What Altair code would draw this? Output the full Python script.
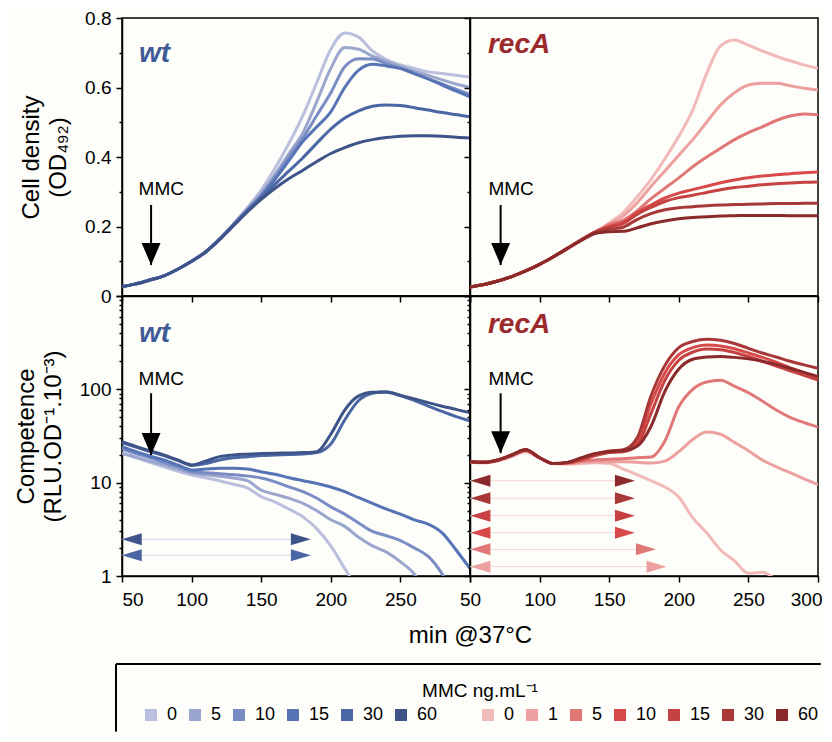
import altair as alt
import pandas as pd

FONT = "Liberation Sans"

T = [50, 60, 70, 80, 90, 100, 110, 120, 130, 140, 150, 160, 170, 180, 190,
     200, 210, 220, 230, 240, 250, 260, 270, 280, 290, 300]

# ---- Cell density (OD492), wt ----
WT_OD_0 = [0.027, 0.035, 0.046, 0.058, 0.077, 0.100, 0.128, 0.165, 0.208, 0.254, 0.305, 0.368, 0.440, 0.520, 0.615, 0.710, 0.757, 0.745, 0.705, 0.680, 0.665, 0.655, 0.645, 0.640, 0.635, 0.630]
WT_OD_5 = [0.027, 0.035, 0.046, 0.058, 0.077, 0.100, 0.127, 0.164, 0.206, 0.250, 0.295, 0.350, 0.410, 0.470, 0.560, 0.655, 0.715, 0.710, 0.690, 0.675, 0.660, 0.647, 0.635, 0.622, 0.610, 0.600]
WT_OD_10 = [0.027, 0.035, 0.046, 0.058, 0.077, 0.100, 0.127, 0.163, 0.205, 0.248, 0.290, 0.343, 0.400, 0.455, 0.520, 0.585, 0.660, 0.683, 0.682, 0.668, 0.655, 0.640, 0.625, 0.610, 0.595, 0.580]
WT_OD_15 = [0.027, 0.035, 0.046, 0.058, 0.077, 0.100, 0.127, 0.163, 0.204, 0.246, 0.286, 0.336, 0.390, 0.445, 0.487, 0.530, 0.600, 0.650, 0.667, 0.662, 0.655, 0.640, 0.625, 0.607, 0.590, 0.573]
WT_OD_30 = [0.027, 0.035, 0.046, 0.058, 0.077, 0.100, 0.126, 0.162, 0.203, 0.244, 0.282, 0.322, 0.360, 0.398, 0.440, 0.480, 0.512, 0.533, 0.546, 0.550, 0.548, 0.542, 0.535, 0.528, 0.522, 0.516]
WT_OD_60 = [0.027, 0.035, 0.046, 0.058, 0.077, 0.100, 0.126, 0.162, 0.202, 0.242, 0.278, 0.310, 0.338, 0.362, 0.387, 0.410, 0.427, 0.441, 0.450, 0.456, 0.460, 0.461, 0.461, 0.460, 0.457, 0.455]

# ---- Cell density (OD492), recA ----
RC_OD_0 = [0.026, 0.033, 0.043, 0.056, 0.072, 0.091, 0.113, 0.137, 0.162, 0.184, 0.210, 0.240, 0.285, 0.335, 0.395, 0.460, 0.535, 0.640, 0.720, 0.737, 0.722, 0.705, 0.690, 0.677, 0.665, 0.655]
RC_OD_1 = [0.026, 0.033, 0.043, 0.056, 0.072, 0.091, 0.113, 0.137, 0.162, 0.184, 0.207, 0.230, 0.268, 0.315, 0.360, 0.405, 0.450, 0.500, 0.550, 0.585, 0.607, 0.612, 0.612, 0.605, 0.598, 0.593]
RC_OD_5 = [0.026, 0.033, 0.043, 0.056, 0.072, 0.091, 0.113, 0.137, 0.162, 0.184, 0.205, 0.218, 0.245, 0.280, 0.310, 0.340, 0.372, 0.400, 0.425, 0.450, 0.470, 0.487, 0.505, 0.518, 0.524, 0.522]
RC_OD_10 = [0.026, 0.033, 0.043, 0.056, 0.072, 0.091, 0.113, 0.137, 0.162, 0.184, 0.200, 0.212, 0.240, 0.262, 0.282, 0.296, 0.306, 0.316, 0.326, 0.334, 0.340, 0.345, 0.349, 0.352, 0.355, 0.357]
RC_OD_15 = [0.026, 0.033, 0.043, 0.056, 0.072, 0.091, 0.113, 0.137, 0.162, 0.184, 0.198, 0.208, 0.235, 0.255, 0.272, 0.283, 0.290, 0.298, 0.306, 0.312, 0.316, 0.320, 0.323, 0.325, 0.327, 0.328]
RC_OD_30 = [0.026, 0.033, 0.043, 0.056, 0.072, 0.091, 0.113, 0.137, 0.162, 0.184, 0.192, 0.198, 0.220, 0.237, 0.248, 0.254, 0.257, 0.260, 0.262, 0.263, 0.264, 0.265, 0.266, 0.266, 0.267, 0.267]
RC_OD_60 = [0.026, 0.033, 0.043, 0.056, 0.072, 0.091, 0.113, 0.137, 0.160, 0.180, 0.185, 0.186, 0.196, 0.208, 0.216, 0.222, 0.226, 0.228, 0.230, 0.231, 0.232, 0.232, 0.232, 0.231, 0.231, 0.231]

# ---- Competence (RLU.OD-1.10-3), wt ----
WT_C_0 = [20.8, 18.5, 16.5, 14.8, 13.3, 12.1, 11.3, 10.5, 9.6, 8.8, 7.1, 6.2, 5.2, 4.3, 3.2, 2.1, 1.2, 0.7, None, None, None, None, None, None, None, None]
WT_C_5 = [20.6, 18.8, 17.0, 15.5, 14.0, 12.7, 12.2, 11.7, 11.2, 10.5, 8.3, 7.5, 6.8, 6.0, 5.0, 4.0, 3.4, 2.6, 2.1, 1.8, 1.42, 1.05, 0.6, None, None, None]
WT_C_10 = [23.0, 20.5, 18.5, 16.5, 14.8, 13.2, 12.8, 12.5, 12.2, 11.8, 11.2, 10.2, 9.0, 8.0, 6.8, 5.5, 4.6, 3.7, 3.0, 2.7, 2.4, 2.0, 1.62, 1.05, 0.55, None]
WT_C_15 = [24.3, 21.5, 19.3, 17.5, 15.5, 13.7, 14.0, 14.3, 14.3, 14.0, 13.1, 12.3, 11.3, 10.5, 9.8, 9.0, 8.0, 6.9, 6.0, 5.2, 4.6, 4.0, 3.6, 2.9, 1.9, 1.2]
WT_C_30 = [27.0, 24.0, 21.5, 19.5, 17.3, 15.3, 16.0, 17.5, 18.5, 19.0, 19.5, 19.8, 20.0, 20.3, 21.0, 26.0, 47.0, 76.0, 91.0, 94.0, 86.0, 76.0, 66.0, 58.0, 51.0, 46.0]
WT_C_60 = [27.5, 24.5, 22.0, 19.8, 17.5, 15.5, 17.0, 19.0, 19.8, 20.2, 20.5, 20.7, 20.8, 21.0, 21.5, 33.0, 60.0, 85.0, 93.0, 93.0, 86.0, 79.0, 72.0, 66.0, 61.0, 56.0]

# ---- Competence (RLU.OD-1.10-3), recA ----
RC_C_0 = [16.5, 16.2, 17.0, 19.0, 21.5, 18.3, 16.0, 15.8, 16.0, 16.3, 16.0, 14.0, 12.2, 10.5, 9.0, 7.0, 4.2, 2.9, 1.9, 1.45, 1.07, 1.1, 0.9, None, None, None]
RC_C_1 = [16.8, 16.5, 17.3, 19.3, 21.8, 18.5, 16.0, 16.0, 16.5, 16.8, 16.8, 16.8, 16.5, 16.2, 17.0, 21.5, 29.0, 35.0, 33.0, 27.0, 22.0, 17.5, 14.8, 12.8, 11.0, 9.5]
RC_C_5 = [16.8, 16.5, 17.3, 19.5, 22.0, 18.5, 16.0, 16.2, 17.0, 17.5, 17.8, 18.0, 18.5, 18.8, 28.0, 65.0, 100.0, 120.0, 125.0, 108.0, 92.0, 75.0, 60.0, 50.0, 44.0, 39.5]
RC_C_10 = [16.8, 16.5, 17.5, 19.8, 22.5, 18.5, 16.0, 16.3, 17.5, 19.5, 21.0, 22.0, 27.0, 70.0, 150.0, 235.0, 280.0, 298.0, 292.0, 272.0, 245.0, 220.0, 195.0, 170.0, 150.0, 131.0]
RC_C_15 = [16.8, 16.5, 17.5, 19.8, 22.5, 18.5, 16.0, 16.3, 17.8, 19.8, 21.2, 21.5, 25.0, 55.0, 125.0, 205.0, 250.0, 270.0, 265.0, 248.0, 225.0, 200.0, 178.0, 158.0, 141.0, 126.0]
RC_C_30 = [16.8, 16.5, 17.5, 19.8, 22.5, 18.5, 16.0, 16.5, 18.3, 20.3, 21.8, 22.5, 30.0, 85.0, 180.0, 280.0, 325.0, 343.0, 335.0, 310.0, 275.0, 245.0, 222.0, 200.0, 183.0, 168.0]
RC_C_60 = [16.8, 16.5, 17.5, 19.8, 22.5, 18.5, 16.0, 16.5, 18.5, 20.5, 21.5, 22.0, 24.5, 40.0, 95.0, 165.0, 210.0, 222.0, 225.0, 220.0, 212.0, 200.0, 185.0, 168.0, 152.0, 137.0]

# ---- legend / colour keys ----
WT_KEYS = ["w 0", "w 5", "w 10", "w 15", "w 30", "w 60"]
RC_KEYS = ["r 0", "r 1", "r 5", "r 10", "r 15", "r 30", "r 60"]
WT_COLORS = ["#b9bfdc", "#9ba6cf", "#7a8cc4", "#5674b5", "#4a66a4", "#3e5489"]
RC_COLORS = ["#f2b9b9", "#eca0a0", "#e07878", "#d84a4a", "#c64242", "#a83838", "#8b2a2a"]
GAP_KEY = ["gap"]
GAP_COLOR = ["rgba(0,0,0,0)"]

# ---- interval arrows (competence panels) ----
WT_ROW_KEYS = ["w 60", "w 30"]
WT_ROW_V = [2.47, 1.67]
WT_ROW_TL = [57.0, 57.0]
WT_ROW_TR = [178.5, 178.5]
RC_ROW_KEYS = ["r 60", "r 30", "r 15", "r 10", "r 5", "r 1"]
RC_ROW_V = [10.5, 6.8, 4.43, 2.91, 1.93, 1.26]
RC_ROW_TL = [57.5, 57.5, 57.5, 57.5, 57.5, 57.5]
RC_ROW_TR = [161.3, 161.3, 161.3, 161.3, 176.4, 184.0]

# ---- MMC annotations (TL, TR, BL, BR) ----
MMC_TEXT_T = [78.2, 79.5, 78.2, 79.5]
MMC_TEXT_V = [0.29, 0.29, 111.0, 111.0]
MMC_ARROW_T = [70.9, 72.0, 70.9, 72.0]
MMC_ARROW_TOP = [0.262, 0.262, 90.8, 90.8]
MMC_ARROW_TIP = [0.089, 0.089, 19.8, 20.7]

# ---- panel labels (TL, TR, BL, BR) ----
PANEL_TEXT = ["wt", "recA", "wt", "recA"]
PANEL_T = [62.2, 62.9, 62.2, 62.9]
PANEL_V = [0.673, 0.698, 322.0, 402.0]
PANEL_COLOR = ["#3f5b97", "#9c2a2d", "#3f5b97", "#9c2a2d"]

# ---- legend frame (top and left edges; it runs off the page), in the
#      coordinates of the lower-left panel ----
BOX_T = [45.69, 552.0]       # left / right ends (min)
BOX_V = [0.114, 0.0215]      # top / bottom ends (competence units)

X_TICKS = [50, 100, 150, 200, 250, 300]
OD_TICKS = [0, 0.1, 0.2, 0.3, 0.4, 0.5, 0.6, 0.7, 0.8]
LOG_TICKS = [1, 2, 3, 4, 5, 6, 7, 8, 9, 10, 20, 30, 40, 50, 60, 70, 80, 90,
             100, 200, 300, 400, 500, 600, 700, 800, 900, 1000]

W, H_TOP, H_BOT = 348, 278, 280


def long_df(keys, arrays):
    rows = []
    for k, arr in zip(keys, arrays):
        for t, v in zip(T, arr):
            if v is not None:
                rows.append({"t": t, "v": v, "key": k})
    return pd.DataFrame(rows)


# legend (fill) scale includes an invisible spacer between the two groups;
# the line (stroke) scale has its own domain so that its disabled legend is not merged
color_scale = alt.Scale(domain=WT_KEYS + GAP_KEY + RC_KEYS, range=WT_COLORS + GAP_COLOR + RC_COLORS)
stroke_scale = alt.Scale(domain=WT_KEYS + RC_KEYS, range=WT_COLORS + RC_COLORS)
x_scale = alt.Scale(domain=[50, 300], nice=False, zero=False)
od_scale = alt.Scale(domain=[0, 0.8], nice=False, zero=False)
log_scale = alt.Scale(type="log", domain=[1, 1000], nice=False)

LEG = alt.Legend(
    title="MMC ng.mL⁻¹", orient="none", legendX=20, legendY=664,
    direction="horizontal", columns=14, symbolType="square", symbolSize=144,
    symbolStrokeWidth=0, symbolOpacity=1,
    labelExpr="datum.label == 'gap' ? '    ' : substring(datum.label, 2)",
    labelFontSize=18, labelColor="black", labelOffset=7, columnPadding=8,
    titleFontSize=19, titleFontWeight="normal", titleColor="black",
    titleAnchor="middle", titlePadding=5, padding=0,
)

od_major = "round(datum.value*10) % 2 == 0"
log_major = "indexof([1, 10, 100, 1000], datum.value) >= 0"

ax_x_top = alt.Axis(values=X_TICKS, labels=False, title=None, tickSize=6)
ax_x_bl = alt.Axis(values=X_TICKS, labelExpr="datum.value == 300 ? '' : datum.label",
                   labelFontSize=19, labelPadding=8, tickSize=6,
                   title="min @37°C", titleFontSize=24, titleX=W, titleY=66,
                   titleAlign="center", titleBaseline="alphabetic")
ax_x_br = alt.Axis(values=X_TICKS, labelFontSize=19, labelPadding=8, tickSize=6, title=None,
                   labelAlign={"condition": {"test": "datum.value == 300", "value": "right"},
                               "value": "center"},
                   labelOffset={"condition": {"test": "datum.value == 300", "value": 4},
                                "value": 0})
ax_y_tl = alt.Axis(values=OD_TICKS,
                   labelExpr="datum.value == 0 ? '0' : (" + od_major + " ? format(datum.value, '.1f') : '')",
                   tickSize={"condition": {"test": od_major, "value": 6}, "value": 3},
                   labelFontSize=19, labelPadding=5,
                   title=["Cell density", "(OD₄₉₂)"], titleFontSize=24, titleLineHeight=27,
                   titlePadding=14)
ax_y_tr = alt.Axis(values=OD_TICKS, labels=False, title=None,
                   tickSize={"condition": {"test": od_major, "value": 6}, "value": 3})
ax_y_bl = alt.Axis(values=LOG_TICKS,
                   labelExpr=log_major + " && datum.value < 1000 ? format(datum.value, 'd') : ''",
                   tickSize={"condition": {"test": log_major, "value": 6}, "value": 3},
                   labelFontSize=19, labelPadding=5,
                   title=["Competence", "(RLU.OD⁻¹.10⁻³)"], titleFontSize=24, titleLineHeight=27,
                   titlePadding=14)
ax_y_br = alt.Axis(values=LOG_TICKS, labels=False, title=None,
                   tickSize={"condition": {"test": log_major, "value": 6}, "value": 3})


def panel(idx, line_df, ysc, axx, axy, height, rows=None, frame=False):
    X = lambda f: alt.X(f, type="quantitative", scale=x_scale, axis=axx)
    Y = lambda f: alt.Y(f, type="quantitative", scale=ysc, axis=axy)

    lines = alt.Chart(line_df).mark_line(strokeWidth=3, clip=True, interpolate="monotone").encode(
        x=X("t"), y=Y("v"),
        stroke=alt.Stroke("key:N", scale=stroke_scale, legend=None),
    )
    layers = [lines]

    if rows is not None:
        rkeys, rv, rtl, rtr, rule_color = rows
        rdf = pd.DataFrame({"key": rkeys, "v": rv, "tl": rtl, "tr": rtr,
                            "t0": [50.0] * len(rkeys)})
        rule = alt.Chart(rdf).mark_rule(strokeWidth=1, color=rule_color).encode(
            x=X("t0"), x2="tr", y=Y("v"))
        left = alt.Chart(rdf).mark_point(
            shape="M-1,0L1,-0.6L1,0.6Z", filled=True, size=400, opacity=1, strokeWidth=0
        ).encode(x=X("tl"), y=Y("v"),
                 color=alt.Color("key:N", scale=color_scale, legend=LEG))
        right = alt.Chart(rdf).mark_point(
            shape="M1,0L-1,-0.6L-1,0.6Z", filled=True, size=400, opacity=1, strokeWidth=0
        ).encode(x=X("tr"), y=Y("v"),
                 color=alt.Color("key:N", scale=color_scale, legend=LEG))
        layers += [rule, left, right]

    mdf = pd.DataFrame({"t": [MMC_TEXT_T[idx]], "v": [MMC_TEXT_V[idx]], "label": ["MMC"]})
    adf = pd.DataFrame({"t": [MMC_ARROW_T[idx]], "v": [MMC_ARROW_TOP[idx]],
                        "v2": [MMC_ARROW_TIP[idx]]})
    hdf = pd.DataFrame({"t": [MMC_ARROW_T[idx]], "v": [MMC_ARROW_TIP[idx]]})
    pdf = pd.DataFrame({"t": [PANEL_T[idx]], "v": [PANEL_V[idx]], "label": [PANEL_TEXT[idx]]})

    mmc_text = alt.Chart(mdf).mark_text(fontSize=19, align="center", baseline="alphabetic",
                                        color="black", font=FONT).encode(
        x=X("t"), y=Y("v"), text="label:N")
    arrow = alt.Chart(adf).mark_rule(strokeWidth=2, color="black").encode(
        x=X("t"), y=Y("v"), y2="v2")
    head = alt.Chart(hdf).mark_point(shape="M-0.86,-2L0.86,-2L0,0Z", filled=True, size=484,
                                     color="black", opacity=1, strokeWidth=0).encode(
        x=X("t"), y=Y("v"))
    ptext = alt.Chart(pdf).mark_text(fontSize=28, fontStyle="italic", fontWeight="bold",
                                     align="left", baseline="alphabetic",
                                     color=PANEL_COLOR[idx], font=FONT).encode(
        x=X("t"), y=Y("v"), text="label:N")
    layers += [mmc_text, arrow, head, ptext]

    if frame:
        top_df = pd.DataFrame({"t": [BOX_T[0]], "t2": [BOX_T[1]], "v": [BOX_V[0]]})
        left_df = pd.DataFrame({"t": [BOX_T[0]], "v": [BOX_V[0]], "v2": [BOX_V[1]]})
        top_edge = alt.Chart(top_df).mark_rule(strokeWidth=2, color="black").encode(
            x=X("t"), x2="t2", y=Y("v"))
        left_edge = alt.Chart(left_df).mark_rule(strokeWidth=2, color="black").encode(
            x=X("t"), y=Y("v"), y2="v2")
        layers += [top_edge, left_edge]
    return alt.layer(*layers).properties(width=W, height=height)


tl = panel(0, long_df(WT_KEYS, [WT_OD_0, WT_OD_5, WT_OD_10, WT_OD_15, WT_OD_30, WT_OD_60]),
           od_scale, ax_x_top, ax_y_tl, H_TOP)
tr = panel(1, long_df(RC_KEYS, [RC_OD_0, RC_OD_1, RC_OD_5, RC_OD_10, RC_OD_15, RC_OD_30, RC_OD_60]),
           od_scale, ax_x_top, ax_y_tr, H_TOP)
bl = panel(2, long_df(WT_KEYS, [WT_C_0, WT_C_5, WT_C_10, WT_C_15, WT_C_30, WT_C_60]),
           log_scale, ax_x_bl, ax_y_bl, H_BOT,
           rows=(WT_ROW_KEYS, WT_ROW_V, WT_ROW_TL, WT_ROW_TR, "#d3d9ee"), frame=True)
br = panel(3, long_df(RC_KEYS, [RC_C_0, RC_C_1, RC_C_5, RC_C_10, RC_C_15, RC_C_30, RC_C_60]),
           log_scale, ax_x_br, ax_y_br, H_BOT,
           rows=(RC_ROW_KEYS, RC_ROW_V, RC_ROW_TL, RC_ROW_TR, "#f6d6d6"))

chart = (
    alt.concat(tl, tr, bl, br, columns=2, spacing=0, bounds="flush", align="each")
    .resolve_scale(color="shared", stroke="shared")
    .resolve_legend(color="shared")
    .properties(padding={"left": 5, "top": 0, "right": 0, "bottom": 0}, background="#fdfdf9")
    .configure(font=FONT)
    .configure_view(stroke="black", strokeWidth=1.5)
    .configure_axis(labelFont=FONT, titleFont=FONT, labelColor="black", titleColor="black",
                    domainColor="black", tickColor="black", domainWidth=1.5, tickWidth=1.5,
                    grid=False, titleFontWeight="normal")
    .configure_legend(labelFont=FONT, titleFont=FONT)
)

chart.save("out.html", embed_options={"renderer": "svg", "actions": False})
